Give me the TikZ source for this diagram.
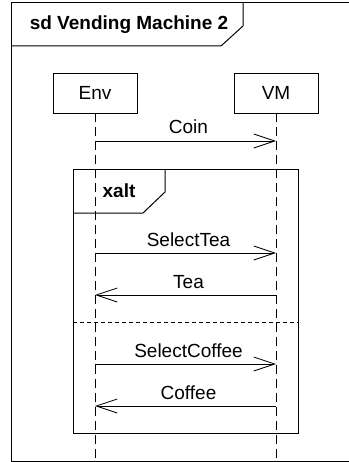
\documentclass[tikz,border=0pt]{standalone}
\usepackage{fontspec}
\setmainfont{Liberation Sans}
\usetikzlibrary{arrows.meta}
\newcommand{\umlfont}{\fontsize{19}{22}\selectfont}
\tikzset{
  lifebox/.style={draw,line width=0.8pt,minimum width=84pt,minimum height=40pt,font=\umlfont},
  lifeline/.style={line width=0.8pt,dash pattern=on 9pt off 5pt},
  msg/.style={line width=0.8pt,-{Straight Barb[length=21pt,width=14pt]}},
  msglabel/.style={font=\umlfont,anchor=base,yshift=7pt,xshift=3pt},
  framebox/.style={line width=1pt},
}
\begin{document}
\begin{tikzpicture}[x=1pt,y=-1pt]
\useasboundingbox (0,0) rectangle (348,462);
% sd frame
\draw[framebox] (11,3) rectangle (352,461);
\draw[framebox] (11,46) -- (221,46) -- (243,26) -- (243,3);
\node[font=\umlfont\bfseries] (title) at (129,25) {sd Vending Machine 2};
% lifelines
\node[lifebox] (env) at (95,93) {Env};
\node[lifebox] (vm) at (276,93) {VM};
\coordinate (envend) at (95,462);
\coordinate (vmend) at (276,462);
\draw[lifeline] (env.south) -- (envend);
\draw[lifeline] (vm.south) -- (vmend);
\foreach \y/\n in {141/1,253/2,295/3,364/4,406/5} {
    \coordinate (e\n) at (95,\y);
    \coordinate (v\n) at (276,\y);
}
\draw[msg] (e1) -- node[msglabel] {Coin} (v1);
% xalt fragment
\draw[framebox] (73,170) rectangle (298,433);
\draw[framebox] (73,213) -- (143,213) -- (165,192) -- (165,170);
\node[font=\umlfont\bfseries] (xalt) at (119,191) {xalt};
\draw[line width=0.8pt,dash pattern=on 4pt off 3pt] (73,322) -- (298,322);
\draw[msg] (e2) -- node[msglabel] {SelectTea} (v2);
\draw[msg] (v3) -- node[msglabel] {Tea} (e3);
\draw[msg] (e4) -- node[msglabel] {SelectCoffee} (v4);
\draw[msg] (v5) -- node[msglabel] {Coffee} (e5);
\end{tikzpicture}
\end{document}
